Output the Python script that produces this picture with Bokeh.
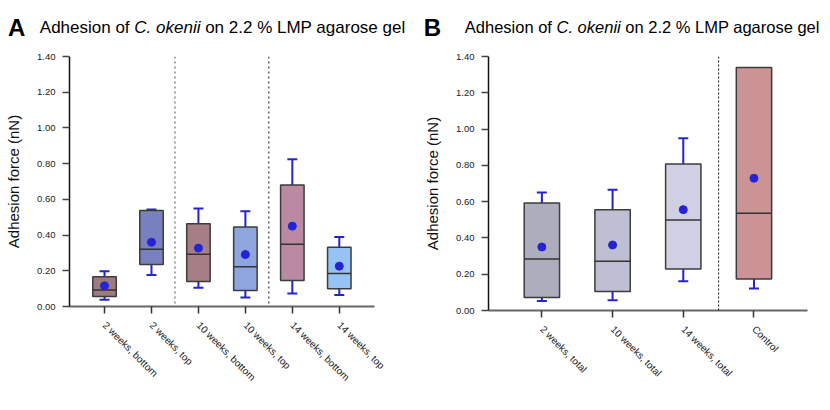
import math
from bokeh.plotting import figure
from bokeh.layouts import row, column
from bokeh.models import (Span, Whisker, TeeHead, ColumnDataSource, Range1d,
                          FixedTicker, PrintfTickFormatter)
from bokeh.core.properties import value
from bokeh.embed import file_html
from bokeh.resources import INLINE

# ---------------- data ----------------
cats_a = ["2 weeks, bottom", "2 weeks, top", "10 weeks, bottom",
          "10 weeks, top", "14 weeks, bottom", "14 weeks, top"]
q1_a = [0.056, 0.235, 0.140, 0.090, 0.146, 0.099]
q3_a = [0.166, 0.538, 0.463, 0.445, 0.681, 0.332]
med_a = [0.092, 0.321, 0.293, 0.222, 0.349, 0.185]
mean_a = [0.116, 0.360, 0.327, 0.291, 0.450, 0.226]
lo_a = [0.038, 0.177, 0.105, 0.050, 0.073, 0.064]
hi_a = [0.198, 0.543, 0.549, 0.534, 0.825, 0.389]
colors_a = ["#9e7b7e", "#7880c0", "#a67e86", "#8ea5de", "#b98aa2", "#96c3f6"]
groups_a = [2, 4]  # separator after these many categories

cats_b = ["2 weeks, total", "10 weeks, total", "14 weeks, total", "Control"]
q1_b = [0.071, 0.105, 0.229, 0.174]
q3_b = [0.593, 0.556, 0.807, 1.340]
med_b = [0.284, 0.271, 0.499, 0.536]
mean_b = [0.350, 0.361, 0.556, 0.729]
lo_b = [0.053, 0.057, 0.161, 0.121]
hi_b = [0.650, 0.666, 0.950, 1.334]
colors_b = ["#adadbe", "#bebfd2", "#cfd0e3", "#cc9394"]
groups_b = [3]

y_ticks = [0.0, 0.2, 0.4, 0.6, 0.8, 1.0, 1.2, 1.4]
y_label = "Adhesion force (nN)"
letters = ["A", "B"]
title_parts = ["Adhesion of", "C. okenii", "on 2.2 % LMP agarose gel"]
title_styles = ["normal", "italic", "normal"]
title_em = [5.559, 4.168]  # advance widths (em) of "Adhesion of " and "C. okenii "

FONT = "Liberation Sans"
ERR = "#2424d2"
HDR_H = 40
W_A, W_B = 415, 407


def header():
    width = W_A + W_B
    h = figure(width=width, height=HDR_H, x_range=Range1d(0, width),
               y_range=Range1d(HDR_H, 0), min_border=0,
               x_axis_location=None, y_axis_location=None,
               output_backend="svg", toolbar_location=None)
    h.grid.visible = False
    h.outline_line_color = None
    # (letter x, title x, title font size) for each panel, page pixels
    spots = [(7.5, 39.3, 17.0), (W_A + 8.2, W_A + 49.3, 16.5)]
    baseline = 26.7
    for letter, (lx, tx, fs) in zip(letters, spots):
        h.text(x=[lx], y=[baseline], text=[letter], text_font=value(FONT),
               text_font_size=value("24px"), text_font_style=value("bold"),
               text_color="black", text_baseline=value("alphabetic"))
        x = tx
        for k, (part, style) in enumerate(zip(title_parts, title_styles)):
            h.text(x=[x], y=[baseline], text=[part], text_font=value(FONT),
                   text_font_size=value(f"{fs}px"),
                   text_font_style=value(style), text_color="black",
                   text_baseline=value("alphabetic"))
            if k < 2:
                x += title_em[k] * fs
    return h


def panel(cats, q1, q3, med, mean, lo, hi, colors, groups, x_lo, x_hi,
          frame, borders, sep_styles):
    n = len(cats)
    xs = list(range(1, n + 1))
    bw = 0.5
    p = figure(frame_width=frame[0], frame_height=frame[1],
               x_range=(x_lo, x_hi), y_range=(0, 1.4),
               output_backend="svg", toolbar_location=None,
               min_border_left=borders[0], min_border_right=borders[1],
               min_border_top=borders[2], min_border_bottom=borders[3])
    p.grid.visible = False
    p.outline_line_color = None

    src = ColumnDataSource(dict(x=xs, q1=q1, q3=q3, med=med, mean=mean,
                                lo=lo, hi=hi, color=colors,
                                x0=[x - bw / 2 for x in xs],
                                x1=[x + bw / 2 for x in xs]))
    p.vbar(x="x", width=bw, bottom="q1", top="q3", fill_color="color",
           line_color="#3c3c3c", line_width=1.5, source=src)
    p.segment(x0="x0", x1="x1", y0="med", y1="med", line_color="#333333",
              line_width=1.5, source=src)
    w = Whisker(base="x", lower="lo", upper="hi", source=src,
                line_color=ERR, line_width=2,
                upper_head=TeeHead(size=10, line_color=ERR, line_width=2),
                lower_head=TeeHead(size=10, line_color=ERR, line_width=2))
    p.add_layout(w)
    p.scatter(x="x", y="mean", size=8, color=ERR, source=src)

    for g, (col, wdt, dash) in zip(groups, sep_styles):
        p.add_layout(Span(location=g + 0.5, dimension="height",
                          line_color=col, line_width=wdt, line_dash=dash))

    p.yaxis.ticker = FixedTicker(ticks=y_ticks)
    p.yaxis.formatter = PrintfTickFormatter(format="%.2f")
    p.yaxis.axis_label = y_label
    p.yaxis.axis_label_text_font = FONT
    p.yaxis.axis_label_text_font_size = "15px"
    p.yaxis.axis_label_text_font_style = "normal"
    p.yaxis.axis_label_text_color = "#111111"
    p.yaxis.axis_label_standoff = 12
    p.yaxis.axis_line_color = "#111111"
    p.yaxis.axis_line_width = 1.5
    p.yaxis.major_tick_line_color = "#444444"
    p.yaxis.major_tick_line_width = 1.5
    p.yaxis.major_tick_out = 7
    p.yaxis.major_tick_in = 0
    p.yaxis.minor_tick_line_color = None
    p.yaxis.major_label_text_font = FONT
    p.yaxis.major_label_text_font_size = "9.5px"
    p.yaxis.major_label_text_color = "#222222"
    p.yaxis.major_label_standoff = 7

    p.xaxis.ticker = FixedTicker(ticks=xs)
    p.xaxis.major_label_overrides = {x: c for x, c in zip(xs, cats)}
    p.xaxis.major_label_orientation = -math.pi / 4
    p.xaxis.axis_line_color = "#666666"
    p.xaxis.axis_line_width = 2
    p.xaxis.major_tick_line_color = "#333333"
    p.xaxis.major_tick_line_width = 1.5
    p.xaxis.major_tick_out = 7
    p.xaxis.major_tick_in = 0
    p.xaxis.minor_tick_line_color = None
    p.xaxis.major_label_text_font = FONT
    p.xaxis.major_label_text_font_size = "10px"
    p.xaxis.major_label_text_color = "#222222"
    p.xaxis.major_label_standoff = 10
    return p


hdr = header()
pa = panel(cats_a, q1_a, q3_a, med_a, mean_a, lo_a, hi_a, colors_a, groups_a,
           0.254, 6.75, (305, 250), (69, 41, 56 - HDR_H, 88),
           [("#888888", 1.5, "2 3"), ("#111111", 1, "2 3")])
pb = panel(cats_b, q1_b, q3_b, med_b, mean_b, lo_b, hi_b, colors_b, groups_b,
           0.245, 4.757, (319, 254), (73, 15, 56 - HDR_H, 84),
           [("#111111", 1, "2 2")])

layout = column(hdr, row(pa, pb, spacing=0), spacing=0)
open("out.html", "w").write(file_html(layout, INLINE))
